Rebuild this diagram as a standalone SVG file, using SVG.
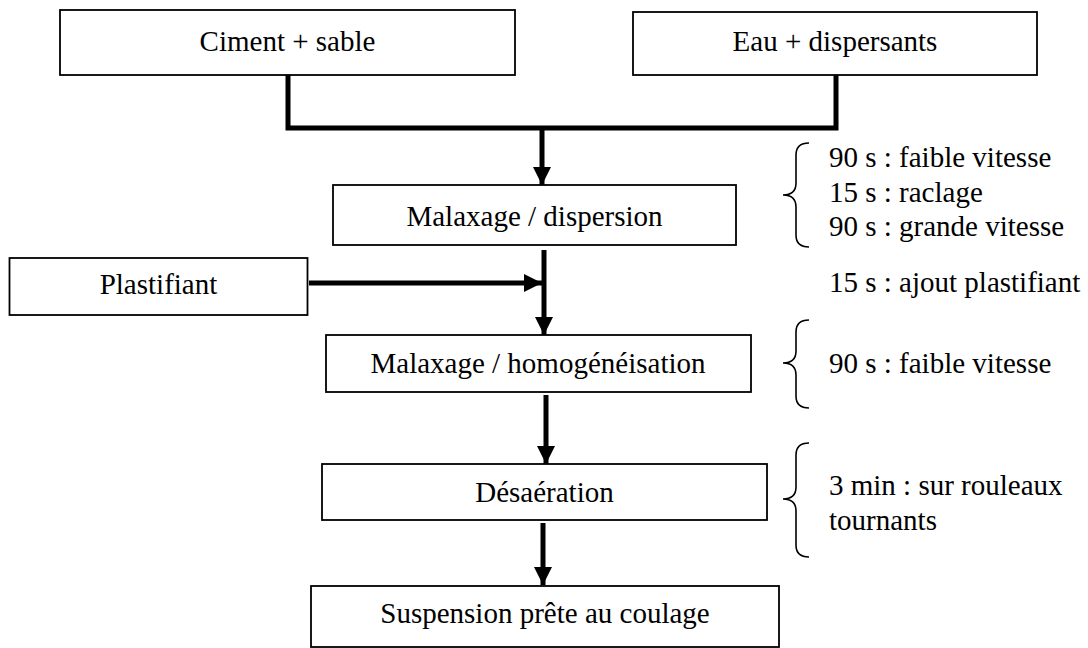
<svg xmlns="http://www.w3.org/2000/svg" width="1088" height="648" viewBox="0 0 1088 648">
<defs>
<style>
.box{fill:#fff;stroke:#000;stroke-width:1.8}
.t{font-family:"Liberation Serif","Times New Roman",serif;font-size:29px;fill:#000}
.c{text-anchor:middle}
.ln{fill:none;stroke:#000;stroke-width:5}
.br{fill:none;stroke:#000;stroke-width:1.6}
</style>
<marker id="ah" viewBox="0 0 10 10" refX="10" refY="5" markerWidth="3.6" markerHeight="3.6" markerUnits="strokeWidth" orient="auto">
<path d="M0,0 L10,5 L0,10 Z" fill="#000"/>
</marker>
</defs>
<rect width="1088" height="648" fill="#fff"/>
<g id="connectors">
<path class="ln" d="M288,75 V128 H836 V75"/>
<line class="ln" x1="542" y1="128" x2="542" y2="185" marker-end="url(#ah)"/>
<line class="ln" x1="544" y1="250" x2="544" y2="335" marker-end="url(#ah)"/>
<line class="ln" x1="309" y1="283" x2="542" y2="283" marker-end="url(#ah)"/>
<line class="ln" x1="546" y1="395" x2="546" y2="464" marker-end="url(#ah)"/>
<line class="ln" x1="543" y1="523" x2="543" y2="585" marker-end="url(#ah)"/>
</g>
<g id="n1"><rect class="box" x="60" y="10" width="455" height="65"/><text class="t c" x="287.5" y="51">Ciment + sable</text></g>
<g id="n2"><rect class="box" x="633" y="12" width="404" height="63"/><text class="t c" x="835" y="51">Eau + dispersants</text></g>
<g id="n3"><rect class="box" x="333" y="185" width="403" height="60"/><text class="t c" x="534.5" y="226">Malaxage / dispersion</text></g>
<g id="n4"><rect class="box" x="9.5" y="258" width="298" height="57"/><text class="t c" x="158.5" y="294">Plastifiant</text></g>
<g id="n5"><rect class="box" x="326" y="335" width="425" height="57"/><text class="t c" x="538" y="373">Malaxage / homogénéisation</text></g>
<g id="n6"><rect class="box" x="322" y="464" width="445" height="56"/><text class="t c" x="544.5" y="502">Désaération</text></g>
<g id="n7"><rect class="box" x="311" y="586" width="468" height="61"/><text class="t c" x="545" y="623">Suspension prête au coulage</text></g>
<g id="notes">
<path class="br" d="M809,143 Q796,143 796,155 V183 Q796,195 783,195 Q796,195 796,207 V235 Q796,247 809,247"/>
<path class="br" d="M809,320 Q796,320 796,332 V351 Q796,363 783,363 Q796,363 796,375 V396 Q796,408 809,408"/>
<path class="br" d="M809,443 Q796,443 796,455 V487 Q796,499 783,499 Q796,499 796,511 V545 Q796,557 809,557"/>
<text class="t" x="829" y="167">90 s : faible vitesse</text>
<text class="t" x="829" y="201.5">15 s : raclage</text>
<text class="t" x="829" y="236">90 s : grande vitesse</text>
<text class="t" x="829" y="292">15 s : ajout plastifiant</text>
<text class="t" x="829" y="373">90 s : faible vitesse</text>
<text class="t" x="829" y="495">3 min : sur rouleaux</text>
<text class="t" x="829" y="530">tournants</text>
</g>
</svg>
